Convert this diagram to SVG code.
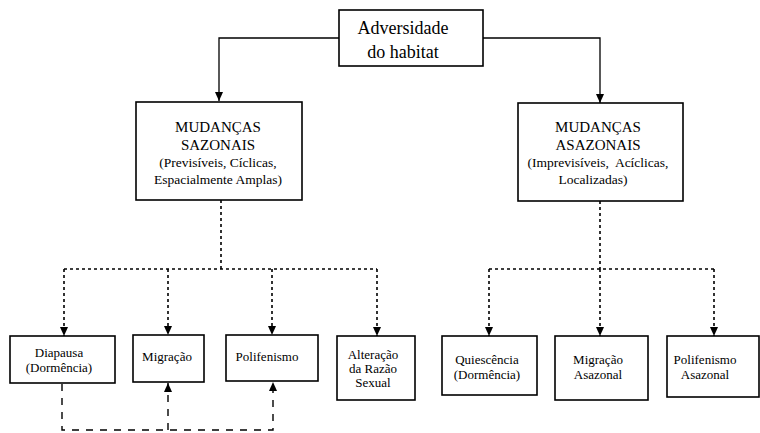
<svg xmlns="http://www.w3.org/2000/svg" width="760" height="433" viewBox="0 0 760 433">
<style>
.box{fill:#fff;stroke:#000;stroke-width:1.6}
.t{font-family:"Liberation Serif","Times New Roman",serif;fill:#000;text-anchor:middle}
.big{font-size:18px}
.mid{font-size:15px}
.sm{font-size:13.5px}
.bt{font-size:13px}
.solid{fill:none;stroke:#000;stroke-width:1.3}
.dot{fill:none;stroke:#000;stroke-width:1.6;stroke-dasharray:3 3}
.dash{fill:none;stroke:#000;stroke-width:1.4;stroke-dasharray:7 7}
</style>
<defs>
<marker id="ah" markerUnits="userSpaceOnUse" markerWidth="10" markerHeight="10" viewBox="0 0 10 10" refX="9" refY="5" orient="auto">
<path d="M0,1 L9,5 L0,9 z" fill="#000"/>
</marker>
</defs>
<rect width="760" height="433" fill="#fff"/>
<g id="connectors">
<path class="solid" d="M339,38 H219 V101" marker-end="url(#ah)"/>
<path class="solid" d="M483,38 H600 V103" marker-end="url(#ah)"/>
<path class="dot" d="M221,200 V269"/>
<path class="dot" d="M64,269 H377"/>
<path class="dot" d="M64,269 V336" marker-end="url(#ah)"/>
<path class="dot" d="M168,269 V335" marker-end="url(#ah)"/>
<path class="dot" d="M272,269 V335" marker-end="url(#ah)"/>
<path class="dot" d="M377,269 V336" marker-end="url(#ah)"/>
<path class="dot" d="M600,201 V269"/>
<path class="dot" d="M489,269 H714"/>
<path class="dot" d="M489,269 V336" marker-end="url(#ah)"/>
<path class="dot" d="M600,269 V336" marker-end="url(#ah)"/>
<path class="dot" d="M714,269 V336" marker-end="url(#ah)"/>
<path class="dash" d="M62,384 V430 H273 V382" marker-end="url(#ah)"/>
<path class="dash" d="M168,430 V383" marker-end="url(#ah)"/>
</g>
<g id="adversidade">
<rect class="box" x="339" y="10" width="144" height="56"/>
<text class="t big" x="403" y="34">Adversidade</text>
<text class="t big" x="403" y="58">do habitat</text>
</g>
<g id="sazonais">
<rect class="box" x="136" y="102" width="166" height="98"/>
<text class="t mid" x="218" y="132">MUDANÇAS</text>
<text class="t mid" x="218" y="150">SAZONAIS</text>
<text class="t sm" x="218" y="167">(Previsíveis, Cíclicas,</text>
<text class="t sm" x="218" y="184">Espacialmente Amplas)</text>
</g>
<g id="asazonais">
<rect class="box" x="518" y="103" width="165" height="98"/>
<text class="t mid" x="598" y="132">MUDANÇAS</text>
<text class="t mid" x="598" y="150">ASAZONAIS</text>
<text class="t sm" x="598" y="167" xml:space="preserve">(Imprevisíveis,  Acíclicas,</text>
<text class="t sm" x="593" y="184">Localizadas)</text>
</g>
<g id="diapausa">
<rect class="box" x="10" y="336" width="105" height="47"/>
<text class="t bt" x="59" y="357">Diapausa</text>
<text class="t bt" x="59" y="372">(Dormência)</text>
</g>
<g id="migracao">
<rect class="box" x="133" y="335" width="71" height="47"/>
<text class="t bt" x="167" y="361">Migração</text>
</g>
<g id="polifenismo">
<rect class="box" x="226" y="335" width="92" height="46"/>
<text class="t bt" x="267" y="361">Polifenismo</text>
</g>
<g id="alteracao">
<rect class="box" x="337" y="336" width="78" height="64"/>
<text class="t bt" x="373" y="359">Alteração</text>
<text class="t bt" x="373" y="373">da Razão</text>
<text class="t bt" x="373" y="387">Sexual</text>
</g>
<g id="quiescencia">
<rect class="box" x="442" y="336" width="95" height="59"/>
<text class="t bt" x="487" y="364">Quiescência</text>
<text class="t bt" x="487" y="379">(Dormência)</text>
</g>
<g id="migracao-asazonal">
<rect class="box" x="555" y="336" width="93" height="64"/>
<text class="t bt" x="598" y="364">Migração</text>
<text class="t bt" x="598" y="379">Asazonal</text>
</g>
<g id="polifenismo-asazonal">
<rect class="box" x="667" y="336" width="92" height="61"/>
<text class="t bt" x="705" y="364">Polifenismo</text>
<text class="t bt" x="705" y="379">Asazonal</text>
</g>
</svg>
